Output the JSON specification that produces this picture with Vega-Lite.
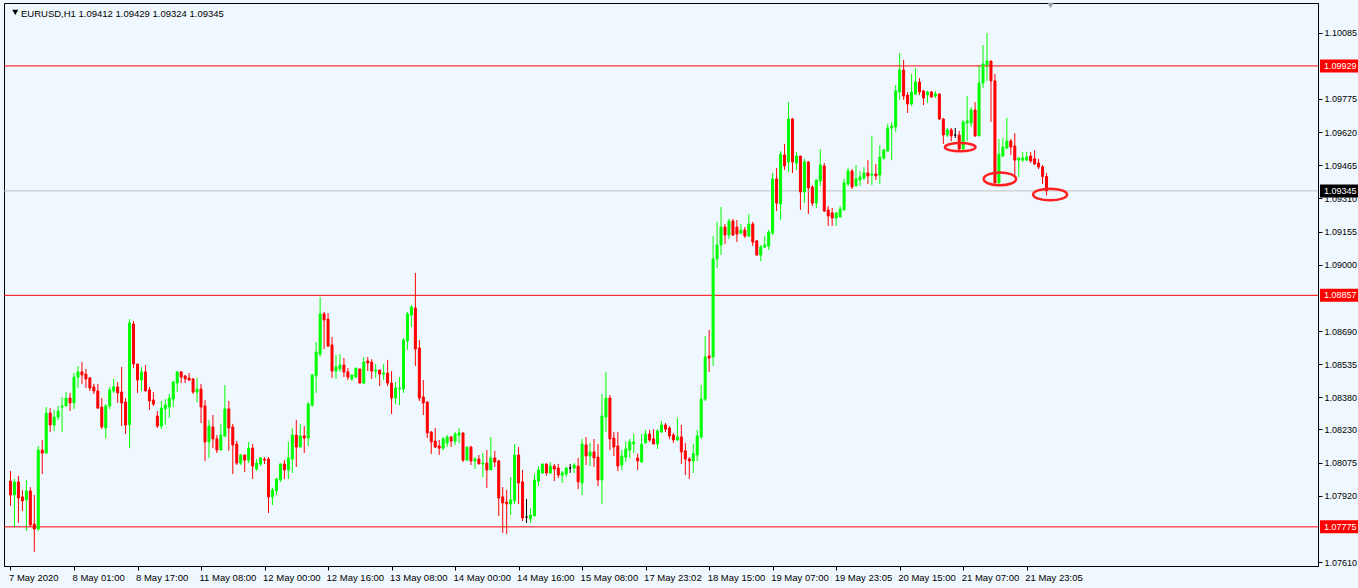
{
  "$schema": "https://vega.github.io/schema/vega-lite/v6.json",
  "width": 1314,
  "height": 563,
  "autosize": {"type": "none"},
  "padding": {"left": 4, "top": 3, "right": 40, "bottom": 22},
  "background": "#F0F8FF",
  "title": {"text": "EURUSD,H1  1.09412 1.09429 1.09324 1.09345", "anchor": "start", "orient": "top", "frame": "group", "offset": -10, "baseline": "middle", "dx": 17, "dy": 11, "font": "Liberation Sans", "fontSize": 9.5, "fontWeight": "normal", "color": "#000000"},
  "config": {
    "view": {"stroke": "#000000", "strokeWidth": 1},
    "axis": {"grid": false, "domainColor": "#000000", "tickColor": "#000000", "labelColor": "#000000", "labelFont": "Liberation Sans", "labelFontSize": 9.5, "tickSize": 4, "domainWidth": 1, "tickWidth": 1}
  },
  "datasets": {
    "tags": [
      {"p": 1.09929, "kind": "level"},
      {"p": 1.08857, "kind": "level"},
      {"p": 1.07775, "kind": "level"},
      {"p": 1.09345, "kind": "bid"}
    ],
    "circles": [
      {"id": "a", "i": 239.25, "p": 1.09549},
      {"id": "b", "i": 249.25, "p": 1.09401},
      {"id": "c", "i": 261.9, "p": 1.09328}
    ],
    "bars": [
{"i":0,"o":1.07989,"h":1.08036,"l":1.07873,"c":1.07924},
{"i":1,"o":1.07924,"h":1.07999,"l":1.07774,"c":1.07985},
{"i":2,"o":1.07985,"h":1.08013,"l":1.07793,"c":1.0791},
{"i":3,"o":1.07915,"h":1.07947,"l":1.07849,"c":1.07896},
{"i":4,"o":1.07901,"h":1.07994,"l":1.07756,"c":1.07943},
{"i":5,"o":1.07943,"h":1.07961,"l":1.07774,"c":1.07784},
{"i":6,"o":1.07788,"h":1.07924,"l":1.07658,"c":1.07765},
{"i":7,"o":1.07765,"h":1.08153,"l":1.07756,"c":1.08134},
{"i":8,"o":1.08134,"h":1.08181,"l":1.08022,"c":1.0812},
{"i":9,"o":1.0812,"h":1.08335,"l":1.08116,"c":1.08307},
{"i":10,"o":1.08307,"h":1.0833,"l":1.08218,"c":1.08251},
{"i":11,"o":1.08251,"h":1.08321,"l":1.08223,"c":1.08288},
{"i":12,"o":1.08288,"h":1.0834,"l":1.08274,"c":1.08316},
{"i":13,"o":1.08335,"h":1.08382,"l":1.08218,"c":1.0834},
{"i":14,"o":1.0834,"h":1.08405,"l":1.0834,"c":1.08377},
{"i":15,"o":1.08377,"h":1.08401,"l":1.08316,"c":1.08354},
{"i":16,"o":1.08354,"h":1.08494,"l":1.08326,"c":1.08475},
{"i":17,"o":1.08475,"h":1.08527,"l":1.08424,"c":1.08499},
{"i":18,"o":1.08499,"h":1.08545,"l":1.08443,"c":1.08485},
{"i":19,"o":1.08489,"h":1.08513,"l":1.08424,"c":1.08466},
{"i":20,"o":1.08471,"h":1.08475,"l":1.0841,"c":1.08424},
{"i":21,"o":1.08429,"h":1.08443,"l":1.08396,"c":1.0841},
{"i":22,"o":1.0841,"h":1.08443,"l":1.08326,"c":1.0833},
{"i":23,"o":1.08335,"h":1.08377,"l":1.08232,"c":1.08242},
{"i":24,"o":1.08237,"h":1.08349,"l":1.0819,"c":1.0834},
{"i":25,"o":1.0834,"h":1.08429,"l":1.08326,"c":1.08415},
{"i":26,"o":1.0841,"h":1.08466,"l":1.08401,"c":1.08429},
{"i":27,"o":1.08429,"h":1.08452,"l":1.08354,"c":1.08401},
{"i":28,"o":1.08405,"h":1.08522,"l":1.08246,"c":1.08354},
{"i":29,"o":1.08358,"h":1.08377,"l":1.08209,"c":1.08251},
{"i":30,"o":1.08251,"h":1.08746,"l":1.08143,"c":1.08728},
{"i":31,"o":1.08723,"h":1.08737,"l":1.08517,"c":1.08536},
{"i":32,"o":1.08536,"h":1.08536,"l":1.08401,"c":1.08461},
{"i":33,"o":1.08461,"h":1.08522,"l":1.0841,"c":1.08499},
{"i":34,"o":1.08499,"h":1.08531,"l":1.0841,"c":1.0841},
{"i":35,"o":1.08415,"h":1.08429,"l":1.08321,"c":1.08363},
{"i":36,"o":1.08368,"h":1.08405,"l":1.0834,"c":1.08349},
{"i":37,"o":1.08293,"h":1.08316,"l":1.08237,"c":1.08246},
{"i":38,"o":1.08246,"h":1.08363,"l":1.08232,"c":1.0833},
{"i":39,"o":1.08326,"h":1.08372,"l":1.08251,"c":1.08344},
{"i":40,"o":1.08335,"h":1.08396,"l":1.08284,"c":1.08377},
{"i":41,"o":1.08372,"h":1.08457,"l":1.08335,"c":1.08452},
{"i":42,"o":1.08447,"h":1.08503,"l":1.08405,"c":1.08499},
{"i":43,"o":1.08499,"h":1.08503,"l":1.08447,"c":1.08475},
{"i":44,"o":1.0848,"h":1.08485,"l":1.08447,"c":1.08466},
{"i":45,"o":1.08471,"h":1.08494,"l":1.08457,"c":1.08461},
{"i":46,"o":1.08466,"h":1.08471,"l":1.08396,"c":1.08405},
{"i":47,"o":1.08405,"h":1.08471,"l":1.08358,"c":1.08419},
{"i":48,"o":1.08419,"h":1.08443,"l":1.0826,"c":1.08335},
{"i":49,"o":1.0834,"h":1.08368,"l":1.08083,"c":1.08172},
{"i":50,"o":1.08172,"h":1.08274,"l":1.08097,"c":1.08246},
{"i":51,"o":1.08242,"h":1.08298,"l":1.08143,"c":1.08186},
{"i":52,"o":1.08186,"h":1.08204,"l":1.0812,"c":1.08134},
{"i":53,"o":1.08134,"h":1.08256,"l":1.08134,"c":1.08204},
{"i":54,"o":1.082,"h":1.08438,"l":1.08195,"c":1.08326},
{"i":55,"o":1.08326,"h":1.08363,"l":1.0813,"c":1.08237},
{"i":56,"o":1.08242,"h":1.08256,"l":1.08022,"c":1.08158},
{"i":57,"o":1.08162,"h":1.08176,"l":1.08064,"c":1.08073},
{"i":58,"o":1.08073,"h":1.08116,"l":1.08064,"c":1.08111},
{"i":59,"o":1.08111,"h":1.08111,"l":1.08031,"c":1.08087},
{"i":60,"o":1.08087,"h":1.08172,"l":1.08073,"c":1.08143},
{"i":61,"o":1.08143,"h":1.08162,"l":1.07999,"c":1.08059},
{"i":62,"o":1.08045,"h":1.08092,"l":1.08036,"c":1.08073},
{"i":63,"o":1.08069,"h":1.08101,"l":1.08059,"c":1.08097},
{"i":64,"o":1.08092,"h":1.08101,"l":1.08069,"c":1.08087},
{"i":65,"o":1.08092,"h":1.08101,"l":1.0784,"c":1.07915},
{"i":66,"o":1.07915,"h":1.07957,"l":1.07877,"c":1.07947},
{"i":67,"o":1.07943,"h":1.08003,"l":1.07924,"c":1.07999},
{"i":68,"o":1.07994,"h":1.08073,"l":1.07985,"c":1.08069},
{"i":69,"o":1.08069,"h":1.08087,"l":1.07999,"c":1.08041},
{"i":70,"o":1.08041,"h":1.08172,"l":1.07999,"c":1.08097},
{"i":71,"o":1.08092,"h":1.08237,"l":1.08027,"c":1.08204},
{"i":72,"o":1.08204,"h":1.08274,"l":1.08055,"c":1.08148},
{"i":73,"o":1.08148,"h":1.08256,"l":1.08148,"c":1.082},
{"i":74,"o":1.082,"h":1.08246,"l":1.0812,"c":1.0819},
{"i":75,"o":1.0819,"h":1.08358,"l":1.08153,"c":1.08349},
{"i":76,"o":1.08344,"h":1.08489,"l":1.08335,"c":1.08485},
{"i":77,"o":1.0848,"h":1.08639,"l":1.08401,"c":1.08592},
{"i":78,"o":1.08583,"h":1.08849,"l":1.08569,"c":1.0877},
{"i":79,"o":1.0877,"h":1.08779,"l":1.08606,"c":1.08742},
{"i":80,"o":1.08746,"h":1.08774,"l":1.08615,"c":1.0862},
{"i":81,"o":1.08625,"h":1.08662,"l":1.08471,"c":1.08503},
{"i":82,"o":1.08503,"h":1.08578,"l":1.08466,"c":1.08522},
{"i":83,"o":1.08513,"h":1.08583,"l":1.08499,"c":1.08531},
{"i":84,"o":1.08531,"h":1.08564,"l":1.08475,"c":1.08499},
{"i":85,"o":1.08499,"h":1.08517,"l":1.08461,"c":1.08475},
{"i":86,"o":1.08466,"h":1.08485,"l":1.08457,"c":1.08485},
{"i":87,"o":1.08475,"h":1.08517,"l":1.08471,"c":1.08517},
{"i":88,"o":1.08513,"h":1.08513,"l":1.08447,"c":1.08447},
{"i":89,"o":1.08447,"h":1.08569,"l":1.08443,"c":1.08545},
{"i":90,"o":1.0855,"h":1.08569,"l":1.08503,"c":1.08541},
{"i":91,"o":1.08545,"h":1.08559,"l":1.08466,"c":1.08503},
{"i":92,"o":1.08503,"h":1.08536,"l":1.08471,"c":1.08508},
{"i":93,"o":1.08508,"h":1.08508,"l":1.08433,"c":1.08489},
{"i":94,"o":1.08489,"h":1.08536,"l":1.08461,"c":1.08494},
{"i":95,"o":1.08494,"h":1.08555,"l":1.08433,"c":1.08447},
{"i":96,"o":1.08447,"h":1.08503,"l":1.08302,"c":1.08377},
{"i":97,"o":1.08377,"h":1.08452,"l":1.08349,"c":1.08424},
{"i":98,"o":1.08419,"h":1.08475,"l":1.08344,"c":1.08424},
{"i":99,"o":1.08419,"h":1.08658,"l":1.08401,"c":1.08648},
{"i":100,"o":1.08644,"h":1.08779,"l":1.08602,"c":1.0877},
{"i":101,"o":1.08765,"h":1.08812,"l":1.08709,"c":1.08802},
{"i":102,"o":1.08798,"h":1.08961,"l":1.08527,"c":1.08606},
{"i":103,"o":1.08611,"h":1.08648,"l":1.08363,"c":1.08377},
{"i":104,"o":1.08382,"h":1.08461,"l":1.08298,"c":1.08354},
{"i":105,"o":1.08358,"h":1.08363,"l":1.0819,"c":1.08214},
{"i":106,"o":1.08218,"h":1.08223,"l":1.08116,"c":1.08172},
{"i":107,"o":1.08176,"h":1.08237,"l":1.08143,"c":1.08148},
{"i":108,"o":1.08153,"h":1.08181,"l":1.08111,"c":1.08143},
{"i":109,"o":1.08143,"h":1.08195,"l":1.08134,"c":1.08186},
{"i":110,"o":1.08167,"h":1.08204,"l":1.08148,"c":1.08195},
{"i":111,"o":1.08195,"h":1.082,"l":1.08148,"c":1.08176},
{"i":112,"o":1.08176,"h":1.08218,"l":1.08158,"c":1.08209},
{"i":113,"o":1.08204,"h":1.08237,"l":1.08167,"c":1.08214},
{"i":114,"o":1.08214,"h":1.08214,"l":1.08078,"c":1.08087},
{"i":115,"o":1.08087,"h":1.08148,"l":1.08083,"c":1.08148},
{"i":116,"o":1.08148,"h":1.08153,"l":1.08064,"c":1.08083},
{"i":117,"o":1.08083,"h":1.08101,"l":1.08045,"c":1.08092},
{"i":118,"o":1.08092,"h":1.08111,"l":1.08069,"c":1.08069},
{"i":119,"o":1.08069,"h":1.0812,"l":1.08008,"c":1.08073},
{"i":120,"o":1.08073,"h":1.08134,"l":1.07957,"c":1.08041},
{"i":121,"o":1.08041,"h":1.08195,"l":1.08041,"c":1.08097},
{"i":122,"o":1.08097,"h":1.0813,"l":1.08055,"c":1.08078},
{"i":123,"o":1.08083,"h":1.08087,"l":1.07826,"c":1.0791},
{"i":124,"o":1.07915,"h":1.07961,"l":1.07746,"c":1.07887},
{"i":125,"o":1.07891,"h":1.07947,"l":1.07742,"c":1.07882},
{"i":126,"o":1.07882,"h":1.08008,"l":1.0783,"c":1.07901},
{"i":127,"o":1.07896,"h":1.08162,"l":1.07882,"c":1.08111},
{"i":128,"o":1.08111,"h":1.08148,"l":1.07882,"c":1.0798},
{"i":129,"o":1.07985,"h":1.08041,"l":1.07802,"c":1.07816},
{"i":130,"o":1.07821,"h":1.07905,"l":1.07793,"c":1.07821},
{"i":131,"o":1.07812,"h":1.07863,"l":1.07793,"c":1.0783},
{"i":132,"o":1.07826,"h":1.08022,"l":1.07826,"c":1.07994},
{"i":133,"o":1.07989,"h":1.08059,"l":1.07966,"c":1.08041},
{"i":134,"o":1.08027,"h":1.08069,"l":1.08022,"c":1.08069},
{"i":135,"o":1.08069,"h":1.08069,"l":1.08013,"c":1.08027},
{"i":136,"o":1.08027,"h":1.08078,"l":1.08022,"c":1.08059},
{"i":137,"o":1.08059,"h":1.08069,"l":1.07989,"c":1.08045},
{"i":138,"o":1.0805,"h":1.08069,"l":1.08003,"c":1.08017},
{"i":139,"o":1.08017,"h":1.08036,"l":1.0798,"c":1.08027},
{"i":140,"o":1.08022,"h":1.08055,"l":1.08008,"c":1.0805},
{"i":141,"o":1.0805,"h":1.08069,"l":1.08027,"c":1.0805},
{"i":142,"o":1.0805,"h":1.08073,"l":1.08027,"c":1.08064},
{"i":143,"o":1.08059,"h":1.08097,"l":1.07952,"c":1.07985},
{"i":144,"o":1.0798,"h":1.08186,"l":1.07924,"c":1.08162},
{"i":145,"o":1.08158,"h":1.08195,"l":1.08064,"c":1.08106},
{"i":146,"o":1.08106,"h":1.08167,"l":1.08059,"c":1.08125},
{"i":147,"o":1.08125,"h":1.08186,"l":1.08055,"c":1.08097},
{"i":148,"o":1.08101,"h":1.08162,"l":1.07966,"c":1.07994},
{"i":149,"o":1.07994,"h":1.08396,"l":1.07882,"c":1.08293},
{"i":150,"o":1.08288,"h":1.08499,"l":1.08218,"c":1.08377},
{"i":151,"o":1.08377,"h":1.08391,"l":1.08134,"c":1.08186},
{"i":152,"o":1.0819,"h":1.08218,"l":1.08106,"c":1.08148},
{"i":153,"o":1.08153,"h":1.08218,"l":1.08036,"c":1.08059},
{"i":154,"o":1.08064,"h":1.08134,"l":1.08041,"c":1.08106},
{"i":155,"o":1.08101,"h":1.08172,"l":1.08078,"c":1.08139},
{"i":156,"o":1.08134,"h":1.08186,"l":1.08097,"c":1.08172},
{"i":157,"o":1.08162,"h":1.08209,"l":1.0812,"c":1.08172},
{"i":158,"o":1.08097,"h":1.08116,"l":1.08041,"c":1.08083},
{"i":159,"o":1.08078,"h":1.08209,"l":1.08078,"c":1.08162},
{"i":160,"o":1.08167,"h":1.08228,"l":1.08167,"c":1.08209},
{"i":161,"o":1.08209,"h":1.08228,"l":1.08172,"c":1.08181},
{"i":162,"o":1.08186,"h":1.08232,"l":1.08162,"c":1.08162},
{"i":163,"o":1.08162,"h":1.08232,"l":1.08139,"c":1.08223},
{"i":164,"o":1.08218,"h":1.0827,"l":1.08214,"c":1.08251},
{"i":165,"o":1.08251,"h":1.0826,"l":1.08218,"c":1.08232},
{"i":166,"o":1.08237,"h":1.08246,"l":1.08186,"c":1.082},
{"i":167,"o":1.08204,"h":1.08214,"l":1.08167,"c":1.08181},
{"i":168,"o":1.08181,"h":1.08284,"l":1.08176,"c":1.08195},
{"i":169,"o":1.08195,"h":1.08251,"l":1.08069,"c":1.08125},
{"i":170,"o":1.0813,"h":1.08167,"l":1.08017,"c":1.08092},
{"i":171,"o":1.08092,"h":1.08101,"l":1.07999,"c":1.08083},
{"i":172,"o":1.08083,"h":1.08162,"l":1.08027,"c":1.08116},
{"i":173,"o":1.08111,"h":1.08228,"l":1.08083,"c":1.082},
{"i":174,"o":1.08195,"h":1.08438,"l":1.08186,"c":1.08372},
{"i":175,"o":1.08372,"h":1.08667,"l":1.08363,"c":1.08569},
{"i":176,"o":1.08573,"h":1.08695,"l":1.08499,"c":1.08564},
{"i":177,"o":1.08569,"h":1.09134,"l":1.08527,"c":1.09027},
{"i":178,"o":1.09027,"h":1.092,"l":1.08985,"c":1.09092},
{"i":179,"o":1.09092,"h":1.0927,"l":1.09045,"c":1.09176},
{"i":180,"o":1.09176,"h":1.0919,"l":1.09097,"c":1.09139},
{"i":181,"o":1.09139,"h":1.09214,"l":1.0912,"c":1.09204},
{"i":182,"o":1.09204,"h":1.09214,"l":1.09134,"c":1.09139},
{"i":183,"o":1.09176,"h":1.09209,"l":1.09106,"c":1.09143},
{"i":184,"o":1.09148,"h":1.0919,"l":1.09143,"c":1.09162},
{"i":185,"o":1.09162,"h":1.09176,"l":1.09125,"c":1.09134},
{"i":186,"o":1.09134,"h":1.09237,"l":1.09129,"c":1.0919},
{"i":187,"o":1.0919,"h":1.092,"l":1.09087,"c":1.09106},
{"i":188,"o":1.09111,"h":1.09116,"l":1.09045,"c":1.09045},
{"i":189,"o":1.09045,"h":1.09092,"l":1.09017,"c":1.09083},
{"i":190,"o":1.09083,"h":1.09134,"l":1.09078,"c":1.09092},
{"i":191,"o":1.09087,"h":1.09162,"l":1.09069,"c":1.09153},
{"i":192,"o":1.09148,"h":1.09429,"l":1.09139,"c":1.09401},
{"i":193,"o":1.09401,"h":1.09452,"l":1.09251,"c":1.09288},
{"i":194,"o":1.09284,"h":1.09531,"l":1.09209,"c":1.09517},
{"i":195,"o":1.09513,"h":1.09564,"l":1.09443,"c":1.09461},
{"i":196,"o":1.0948,"h":1.0976,"l":1.09433,"c":1.09681},
{"i":197,"o":1.09681,"h":1.09686,"l":1.09429,"c":1.0948},
{"i":198,"o":1.09475,"h":1.09527,"l":1.09443,"c":1.09508},
{"i":199,"o":1.09508,"h":1.09508,"l":1.09256,"c":1.0934},
{"i":200,"o":1.0934,"h":1.09495,"l":1.09288,"c":1.0948},
{"i":201,"o":1.0948,"h":1.09485,"l":1.09237,"c":1.09359},
{"i":202,"o":1.09363,"h":1.09372,"l":1.09274,"c":1.09288},
{"i":203,"o":1.09288,"h":1.09396,"l":1.09265,"c":1.09396},
{"i":204,"o":1.09391,"h":1.09541,"l":1.09368,"c":1.09466},
{"i":205,"o":1.09461,"h":1.09475,"l":1.09246,"c":1.09251},
{"i":206,"o":1.09256,"h":1.09274,"l":1.09181,"c":1.09228},
{"i":207,"o":1.09242,"h":1.09265,"l":1.09181,"c":1.09218},
{"i":208,"o":1.09218,"h":1.09246,"l":1.09181,"c":1.09242},
{"i":209,"o":1.09223,"h":1.09274,"l":1.09223,"c":1.0926},
{"i":210,"o":1.09256,"h":1.09401,"l":1.09256,"c":1.09382},
{"i":211,"o":1.09377,"h":1.09452,"l":1.09368,"c":1.09438},
{"i":212,"o":1.09438,"h":1.09447,"l":1.09354,"c":1.09363},
{"i":213,"o":1.09368,"h":1.09466,"l":1.09368,"c":1.09401},
{"i":214,"o":1.09396,"h":1.09438,"l":1.09368,"c":1.0941},
{"i":215,"o":1.09405,"h":1.09457,"l":1.09396,"c":1.09429},
{"i":216,"o":1.09429,"h":1.09489,"l":1.09377,"c":1.09415},
{"i":217,"o":1.09419,"h":1.09602,"l":1.09372,"c":1.09424},
{"i":218,"o":1.09424,"h":1.09471,"l":1.09396,"c":1.09415},
{"i":219,"o":1.09419,"h":1.09559,"l":1.09377,"c":1.09503},
{"i":220,"o":1.09499,"h":1.09541,"l":1.09489,"c":1.09536},
{"i":221,"o":1.09531,"h":1.09658,"l":1.09531,"c":1.09639},
{"i":222,"o":1.09639,"h":1.09667,"l":1.09489,"c":1.09648},
{"i":223,"o":1.09644,"h":1.0984,"l":1.0962,"c":1.09812},
{"i":224,"o":1.09807,"h":1.09989,"l":1.0977,"c":1.0991},
{"i":225,"o":1.0991,"h":1.09957,"l":1.0977,"c":1.09788},
{"i":226,"o":1.09793,"h":1.09807,"l":1.09709,"c":1.09751},
{"i":227,"o":1.09751,"h":1.09891,"l":1.09742,"c":1.09807},
{"i":228,"o":1.09798,"h":1.09919,"l":1.09793,"c":1.09854},
{"i":229,"o":1.09854,"h":1.09872,"l":1.09793,"c":1.09807},
{"i":230,"o":1.09812,"h":1.09816,"l":1.09746,"c":1.09779},
{"i":231,"o":1.09793,"h":1.09812,"l":1.09756,"c":1.09807},
{"i":232,"o":1.09807,"h":1.09812,"l":1.09779,"c":1.09784},
{"i":233,"o":1.09788,"h":1.09812,"l":1.09779,"c":1.09798},
{"i":234,"o":1.09798,"h":1.09798,"l":1.09676,"c":1.09681},
{"i":235,"o":1.09681,"h":1.09686,"l":1.09564,"c":1.09606},
{"i":236,"o":1.09606,"h":1.09639,"l":1.09597,"c":1.0963},
{"i":237,"o":1.0963,"h":1.09639,"l":1.09578,"c":1.09602},
{"i":238,"o":1.09606,"h":1.09639,"l":1.09592,"c":1.09606},
{"i":239,"o":1.09606,"h":1.09625,"l":1.09531,"c":1.09541},
{"i":240,"o":1.09541,"h":1.09676,"l":1.09531,"c":1.09667},
{"i":241,"o":1.09662,"h":1.09788,"l":1.09578,"c":1.09672},
{"i":242,"o":1.09662,"h":1.09737,"l":1.09644,"c":1.09723},
{"i":243,"o":1.09723,"h":1.0976,"l":1.09597,"c":1.09602},
{"i":244,"o":1.09602,"h":1.09933,"l":1.09602,"c":1.09849},
{"i":245,"o":1.09849,"h":1.10027,"l":1.09826,"c":1.09938},
{"i":246,"o":1.09933,"h":1.10083,"l":1.09859,"c":1.09952},
{"i":247,"o":1.09952,"h":1.09952,"l":1.09667,"c":1.09859},
{"i":248,"o":1.09859,"h":1.09891,"l":1.09382,"c":1.09382},
{"i":249,"o":1.09382,"h":1.09587,"l":1.09382,"c":1.09517},
{"i":250,"o":1.09508,"h":1.09592,"l":1.09503,"c":1.0955},
{"i":251,"o":1.09545,"h":1.09686,"l":1.09541,"c":1.09578},
{"i":252,"o":1.09578,"h":1.09587,"l":1.09513,"c":1.0955},
{"i":253,"o":1.09555,"h":1.09615,"l":1.09415,"c":1.09489},
{"i":254,"o":1.09489,"h":1.09499,"l":1.0941,"c":1.09499},
{"i":255,"o":1.09489,"h":1.09527,"l":1.0948,"c":1.09499},
{"i":256,"o":1.09489,"h":1.09527,"l":1.09485,"c":1.09503},
{"i":257,"o":1.09508,"h":1.09527,"l":1.09475,"c":1.09485},
{"i":258,"o":1.09495,"h":1.09536,"l":1.09466,"c":1.09471},
{"i":259,"o":1.09475,"h":1.09495,"l":1.09447,"c":1.09457},
{"i":260,"o":1.09457,"h":1.09466,"l":1.09377,"c":1.09412},
{"i":261,"o":1.09412,"h":1.09429,"l":1.09324,"c":1.09345}
    ]
  },
  "layer": [
    {
      "data": {"name": "bars"},
      "mark": {"type": "rule", "strokeWidth": 1},
      "encoding": {
        "x": {"field": "i", "type": "quantitative", "title": null,
          "scale": {"domain": [-0.375, 328.125], "nice": false, "zero": false},
          "axis": {"orient": "bottom", "values": [0,16,32,48,64,80,96,112,128,144,160,176,192,208,224,240,256], "labelAlign": "left", "labelPadding": 2, "labelOffset": -2, "labelBound": false, "labelFlush": false, "labelOverlap": false,
            "labelExpr": "['7 May 2020','8 May 01:00','8 May 17:00','11 May 08:00','12 May 00:00','12 May 16:00','13 May 08:00','14 May 00:00','14 May 16:00','15 May 08:00','17 May 23:02','18 May 15:00','19 May 07:00','19 May 23:05','20 May 15:00','21 May 07:00','21 May 23:05'][round(datum.value/16)]"}},
        "y": {"field": "l", "type": "quantitative", "title": null,
          "scale": {"domain": [1.075921, 1.10223], "nice": false, "zero": false},
          "axis": {"orient": "right", "values": [1.10085,1.09775,1.0962,1.09465,1.0931,1.09155,1.09,1.0869,1.08535,1.0838,1.0823,1.08075,1.0792,1.0761], "format": ".5f", "labelPadding": 2, "labelFontSize": 9, "labelBound": false, "labelFlush": false, "labelOverlap": false}},
        "y2": {"field": "h"},
        "color": {"condition": [{"test": "datum.c > datum.o", "value": "#00ff00"}, {"test": "datum.c < datum.o", "value": "#ff0000"}], "value": "#000000"}
      }
    },
    {
      "data": {"name": "tags"},
      "mark": {"type": "rule", "strokeWidth": 1},
      "encoding": {
        "y": {"field": "p", "type": "quantitative", "title": null},
        "stroke": {"field": "kind", "type": "nominal", "scale": {"domain": ["level", "bid"], "range": ["#ff0000", "#c0c0c0"]}, "legend": null}
      }
    },
    {
      "data": {"name": "bars"},
      "mark": {"type": "bar", "width": 2, "strokeWidth": 1, "opacity": 1},
      "encoding": {
        "x": {"field": "i", "type": "quantitative", "title": null},
        "y": {"field": "o", "type": "quantitative", "title": null},
        "y2": {"field": "c"},
        "color": {"condition": [{"test": "datum.c > datum.o", "value": "#00ff00"}, {"test": "datum.c < datum.o", "value": "#ff0000"}], "value": "#000000"},
        "stroke": {"condition": [{"test": "datum.c > datum.o", "value": "#00ff00"}, {"test": "datum.c < datum.o", "value": "#ff0000"}], "value": "#000000"}
      }
    },
    {
      "data": {"name": "circles"},
      "mark": {"type": "point", "filled": false, "stroke": "#ff2020", "strokeWidth": 2.5, "opacity": 1},
      "encoding": {
        "x": {"field": "i", "type": "quantitative", "title": null},
        "y": {"field": "p", "type": "quantitative", "title": null},
        "shape": {"field": "id", "type": "nominal", "legend": null, "scale": {"domain": ["a", "b", "c"], "range": ["M-1,0A1,0.27 0 1,0 1,0A1,0.27 0 1,0 -1,0Z", "M-1,0A1,0.4 0 1,0 1,0A1,0.4 0 1,0 -1,0Z", "M-1,0A1,0.34 0 1,0 1,0A1,0.34 0 1,0 -1,0Z"]}},
        "size": {"field": "id", "type": "ordinal", "legend": null, "scale": {"domain": ["a", "b", "c"], "range": [936, 1156, 841]}}
      }
    },
    {
      "data": {"values": [{"i": 262, "p": 1.10211}]},
      "mark": {"type": "point", "shape": "triangle-down", "filled": true, "color": "#a0a0a0", "size": 40, "opacity": 1},
      "encoding": {
        "x": {"field": "i", "type": "quantitative", "title": null},
        "y": {"field": "p", "type": "quantitative", "title": null}
      }
    },
    {
      "data": {"values": [{"i": 1.2, "p": 1.10179}]},
      "mark": {"type": "point", "shape": "triangle-down", "filled": true, "color": "#000000", "size": 36, "opacity": 1},
      "encoding": {
        "x": {"field": "i", "type": "quantitative", "title": null},
        "y": {"field": "p", "type": "quantitative", "title": null}
      }
    },
    {
      "data": {"name": "tags"},
      "mark": {"type": "rect", "xOffset": 2, "x2Offset": 42, "yOffset": -6.5, "y2Offset": 6.5},
      "encoding": {
        "x": {"value": "width"},
        "x2": {"value": "width"},
        "y": {"field": "p", "type": "quantitative", "title": null},
        "y2": {"field": "p"},
        "fill": {"field": "kind", "type": "nominal", "scale": {"domain": ["level", "bid"], "range": ["#ff0000", "#000000"]}, "legend": null}
      }
    },
    {
      "data": {"name": "tags"},
      "mark": {"type": "text", "align": "left", "baseline": "middle", "dx": 6, "color": "#ffffff", "font": "Liberation Sans", "fontSize": 9},
      "encoding": {
        "x": {"value": "width"},
        "y": {"field": "p", "type": "quantitative", "title": null},
        "text": {"field": "p", "type": "quantitative", "format": ".5f"}
      }
    }
  ]
}
